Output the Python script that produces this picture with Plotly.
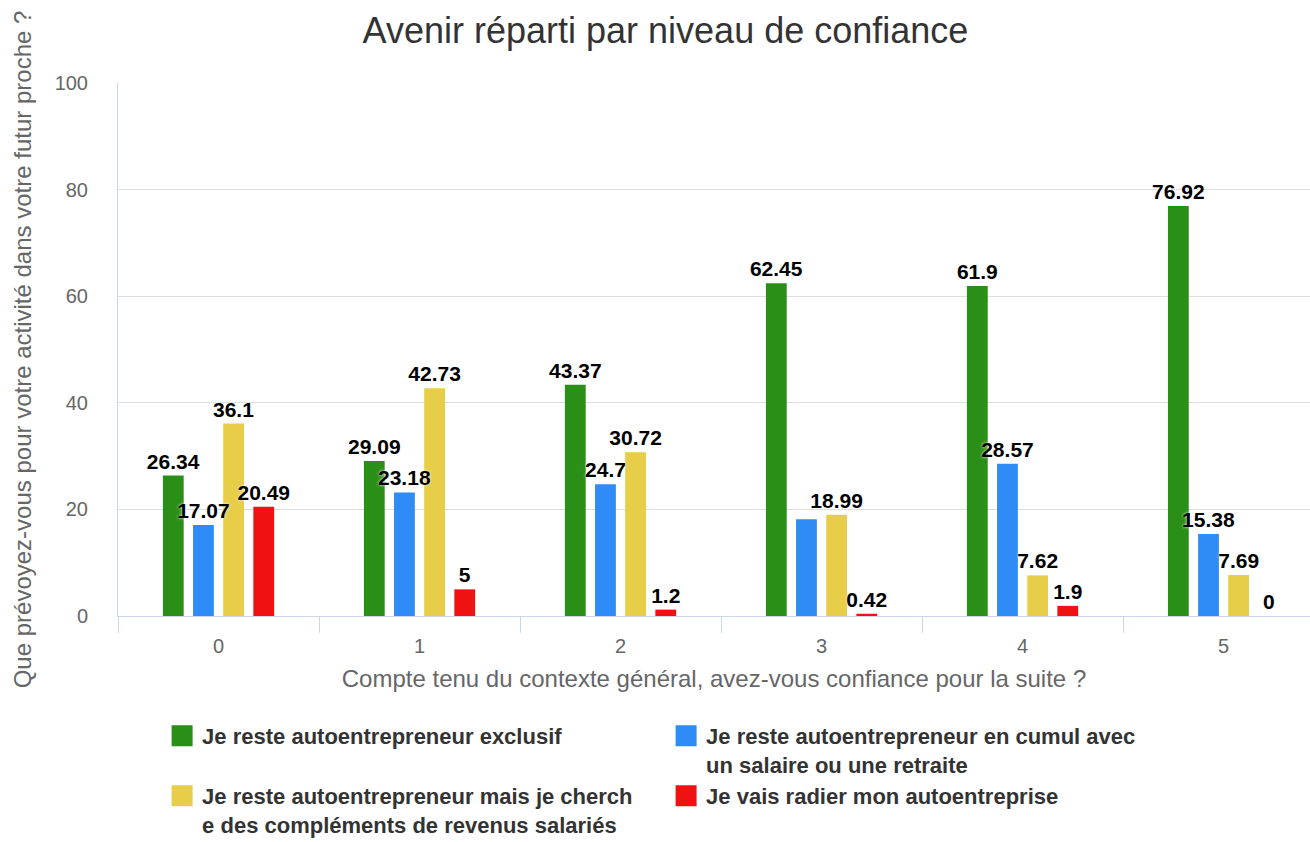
import plotly.graph_objects as go

# ---------------- data ----------------
categories = ["0", "1", "2", "3", "4", "5"]
series_names = [
    "Je reste autoentrepreneur exclusif",
    "Je reste autoentrepreneur en cumul avec<br>un salaire ou une retraite",
    "Je reste autoentrepreneur mais je cherch<br>e des compléments de revenus salariés",
    "Je vais radier mon autoentreprise",
]
exclusif = [26.34, 29.09, 43.37, 62.45, 61.9, 76.92]
cumul = [17.07, 23.18, 24.7, 18.14, 28.57, 15.38]
complements = [36.1, 42.73, 30.72, 18.99, 7.62, 7.69]
radier = [20.49, 5, 1.2, 0.42, 1.9, 0]
# labels hidden in the reference (overlap) : (series index, category index)
hidden_labels = [(1, 3)]

series_values = [exclusif, cumul, complements, radier]
colors = ["#2a8f17", "#2f8cf6", "#e8cd48", "#f01212"]

FONT = "Liberation Sans, Arial, Helvetica, sans-serif"

fig = go.Figure()

# colored bars
for i, (name, vals, col) in enumerate(zip(series_names, series_values, colors)):
    fig.add_trace(go.Bar(
        x=categories, y=vals, name=name, marker=dict(color=col, line=dict(width=0)),
        offsetgroup=str(i), showlegend=False,
    ))

# data labels drawn on top of every bar (transparent overlay bars)
for i, vals in enumerate(series_values):
    texts = []
    for j, v in enumerate(vals):
        texts.append("" if (i, j) in hidden_labels else f"{v:g}")
    fig.add_trace(go.Bar(
        x=categories, y=vals, text=texts, textposition="outside",
        marker=dict(color="rgba(0,0,0,0)", line=dict(width=0)),
        textfont=dict(family=FONT, size=21, color="#000000", weight="bold",
                      shadow="0px 0px 3px #ffffff"),
        cliponaxis=False, constraintext="none",
        offsetgroup=str(i), showlegend=False, hoverinfo="skip",
    ))

# legend entries
for name, col in zip(series_names, colors):
    fig.add_trace(go.Scatter(
        x=[None], y=[None], mode="markers", name=name,
        marker=dict(symbol="square", size=16, color=col, line=dict(color=col, width=5)),
    ))

fig.update_layout(
    width=1310, height=842,
    margin=dict(l=118, r=0, t=83, b=226, autoexpand=False),
    paper_bgcolor="white", plot_bgcolor="white",
    barmode="group", bargap=0.4, bargroupgap=0.31,
    font=dict(family=FONT, color="#666666"),
    title=dict(text="Avenir réparti par niveau de confiance",
               font=dict(family=FONT, size=36, color="#333333"),
               x=0.508, xanchor="center", y=0.964, yanchor="middle", xref="container", yref="container"),
    legend=dict(orientation="h", x=0.037, xanchor="left", y=0.151, yanchor="top",
                yref="container",
                entrywidth=459, entrywidthmode="pixels", valign="top",
                font=dict(family=FONT, size=22, color="#333333", weight="bold"),
                bgcolor="rgba(0,0,0,0)"),
    xaxis=dict(
        type="category", range=[-0.5, 5.43], tickson="boundaries", automargin=False,
        ticks="outside", ticklen=16, tickcolor="#ccd6eb", tickwidth=1,
        showline=True, linecolor="#ccd6eb", linewidth=1, showgrid=False,
        ticklabelstandoff=12,
        tickfont=dict(family=FONT, size=20, color="#666666"),
        title=dict(text="Compte tenu du contexte général, avez-vous confiance pour la suite ?",
                   font=dict(family=FONT, size=24, color="#666666"), standoff=14),
    ),
    yaxis=dict(
        range=[0, 100], dtick=20, showgrid=True, gridcolor="#dedede", gridwidth=1,
        zeroline=False, showline=True, linecolor="#ccd6eb", linewidth=1, automargin=False,
        ticklabelstandoff=25,
        tickfont=dict(family=FONT, size=20, color="#666666"),
        title=dict(text="Que prévoyez-vous pour votre activité dans votre futur proche ?",
                   font=dict(family=FONT, size=24, color="#666666"), standoff=16),
    ),
)

fig.write_html("out.html", config={"displayModeBar": False},
               post_script="document.body.style.margin='0';")
